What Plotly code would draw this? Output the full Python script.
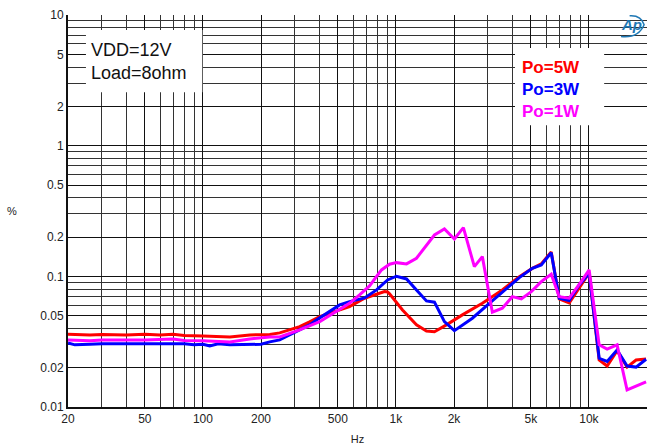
import plotly.graph_objects as go

# ---- data ----
freq_5w = [20, 26, 30, 40, 50, 60, 70, 80, 100, 138, 175, 222, 250, 281, 317, 357, 403, 481, 575, 688,
           873, 905, 927, 1082, 1278, 1440, 1584, 1827, 2210, 2805, 3560, 4360, 5090, 5665, 6380,
           7020, 7910, 8910, 10030, 11300, 12430, 14000, 15770, 17560, 19780]
thd_5w = [0.036, 0.0356, 0.0359, 0.0356, 0.036, 0.0356, 0.036, 0.0353, 0.035, 0.0344, 0.0356, 0.0359,
          0.0369, 0.0389, 0.0412, 0.0448, 0.0492, 0.0537, 0.0586, 0.068, 0.0764, 0.0759, 0.0734,
          0.0553, 0.0425, 0.0382, 0.0377, 0.0425, 0.0507, 0.0622, 0.0787, 0.0995, 0.115, 0.1245,
          0.1537, 0.0672, 0.0626, 0.0815, 0.106, 0.0229, 0.0206, 0.027, 0.0202, 0.0229, 0.0233]

freq_3w = [20, 21.7, 26, 30, 40, 50, 70, 80, 90, 100, 108.6, 120, 138, 175, 200, 222, 250, 281, 317,
           357, 403, 453, 511, 575, 688, 794, 905, 1007, 1135, 1278, 1440, 1584, 1784, 2009, 2490,
           3049, 3734, 4360, 5090, 5665, 6380, 7020, 7910, 8910, 10030, 11300, 12430, 14000, 15770,
           17560, 19780]
thd_3w = [0.0309, 0.0299, 0.0302, 0.0305, 0.0305, 0.0305, 0.0309, 0.0305, 0.0299, 0.0302, 0.0293,
          0.0305, 0.0299, 0.0302, 0.0302, 0.0315, 0.0326, 0.0356, 0.0389, 0.0425, 0.0481, 0.0537,
          0.0604, 0.064, 0.0684, 0.0787, 0.0938, 0.1002, 0.0955, 0.0787, 0.0648, 0.0634, 0.045,
          0.0384, 0.0478, 0.0622, 0.0811, 0.0977, 0.1153, 0.1223, 0.1518, 0.068, 0.0652, 0.0859,
          0.1056, 0.0236, 0.0223, 0.0273, 0.0206, 0.0202, 0.0232]

freq_1w = [20, 26, 30, 50, 70, 80, 100, 138, 175, 222, 250, 317, 403, 511, 575, 648, 730, 842, 927,
           1007, 1135, 1278, 1584, 1784, 2009, 2237, 2550, 2805, 3160, 3560, 4010, 4465, 5030, 5665,
           6380, 7020, 7910, 9120, 10030, 11300, 12430, 14000, 15770, 19780]
thd_1w = [0.0326, 0.0321, 0.0326, 0.0326, 0.0332, 0.0323, 0.0321, 0.0315, 0.0332, 0.0344, 0.0344,
          0.0389, 0.045, 0.0553, 0.0622, 0.0721, 0.0844, 0.112, 0.1238, 0.1273, 0.1245, 0.1375,
          0.2073, 0.2306, 0.1932, 0.2358, 0.1186, 0.1415, 0.0531, 0.057, 0.0699, 0.0672, 0.0764,
          0.0911, 0.1038, 0.0699, 0.068, 0.0911, 0.112, 0.0299, 0.0277, 0.0299, 0.0135, 0.0156]

x_tickvals = [20, 50, 100, 200, 500, 1000, 2000, 5000, 10000, 20000]
x_ticktext = ["20", "50", "100", "200", "500", "1k", "2k", "5k", "10k", "20k"]
y_tickvals = [0.01, 0.02, 0.05, 0.1, 0.2, 0.5, 1, 2, 5, 10]
y_ticktext = ["0.01", "0.02", "0.05", "0.1", "0.2", "0.5", "1", "2", "5", "10"]

series = [("Po=5W", freq_5w, thd_5w, "#ff0000"),
          ("Po=3W", freq_3w, thd_3w, "#0000ff"),
          ("Po=1W", freq_1w, thd_1w, "#ff00ff")]

fig = go.Figure()
for name, fx, fy, col in series:
    fig.add_trace(go.Scatter(x=fx, y=fy, mode="lines", name=name,
                             line=dict(color=col, width=3)))

x_minor = [m * 10 ** e for e in range(1, 5) for m in range(1, 10)
           if 20 <= m * 10 ** e <= 20000 and m * 10 ** e not in x_tickvals]
y_minor = [round(m * 10.0 ** e, 6) for e in range(-2, 2) for m in range(1, 10)
           if 0.01 <= m * 10.0 ** e <= 10 and round(m * 10.0 ** e, 6) not in y_tickvals]

font = "Liberation Sans, Arial, sans-serif"
fig.update_layout(
    width=647, height=448,
    margin=dict(l=68, r=0, t=15, b=41),
    paper_bgcolor="white", plot_bgcolor="white",
    showlegend=False,
    font=dict(family=font, size=12, color="#222"),
    xaxis=dict(type="log", range=[1.30103, 4.30103],
               tickmode="array", tickvals=x_tickvals, ticktext=x_ticktext,
               showgrid=True, gridcolor="#111", gridwidth=1,
               minor=dict(tickmode="array", tickvals=x_minor, showgrid=True,
                          gridcolor="#333", gridwidth=1, ticks=""),
               showline=True, linecolor="#111", linewidth=2,
               ticks="", zeroline=False,
               title=dict(text="Hz", font=dict(size=11), standoff=10)),
    yaxis=dict(type="log", range=[-2, 1],
               tickmode="array", tickvals=y_tickvals, ticktext=y_ticktext,
               showgrid=True, gridcolor="#111", gridwidth=1,
               minor=dict(tickmode="array", tickvals=y_minor, showgrid=True,
                          gridcolor="#333", gridwidth=1, ticks=""),
               showline=True, linecolor="#111", linewidth=2,
               ticks="", zeroline=False,
               title=dict(text="", font=dict(size=11))),
)

# y-axis unit label, upright as in the reference
fig.add_annotation(xref="paper", yref="paper", x=-0.097, y=0.5, xanchor="center", yanchor="middle",
                   text="%", showarrow=False, font=dict(size=11, color="#222", family=font))

# white boxes for the annotations
fig.add_shape(type="rect", xref="paper", yref="paper", x0=0.031, x1=0.232, y0=0.803, y1=0.962,
              fillcolor="white", line=dict(width=0), layer="above")
fig.add_shape(type="rect", xref="paper", yref="paper", x0=0.772, x1=0.926, y0=0.719, y1=0.916,
              fillcolor="white", line=dict(width=0), layer="above")

fig.add_annotation(xref="paper", yref="paper", x=0.036, y=0.91, xanchor="left", yanchor="middle",
                   text="VDD=12V", showarrow=False, font=dict(size=18, color="#111", family=font))
fig.add_annotation(xref="paper", yref="paper", x=0.036, y=0.853, xanchor="left", yanchor="middle",
                   text="Load=8ohm", showarrow=False, font=dict(size=18, color="#111", family=font))

legend_y = [0.867, 0.809, 0.755]
for (name, _, _, col), ly in zip(series, legend_y):
    fig.add_annotation(xref="paper", yref="paper", x=0.781, y=ly, xanchor="left", yanchor="middle",
                       text="<b>%s</b>" % name, showarrow=False,
                       font=dict(size=17, color=col, family=font))

# AP logo
fig.add_annotation(xref="paper", yref="paper", x=0.995, y=0.975, xanchor="right", yanchor="middle",
                   text="<b><i>Ap</i></b>", showarrow=False,
                   font=dict(size=15, color="#1f78b4", family=font))
fig.add_shape(type="path", xref="paper", yref="paper",
              path="M 0.955 0.945 Q 0.985 0.94 0.995 0.975 Q 0.99 1.0 0.97 0.998",
              line=dict(color="#1f78b4", width=1.5), layer="above")

fig.write_html("out.html")
